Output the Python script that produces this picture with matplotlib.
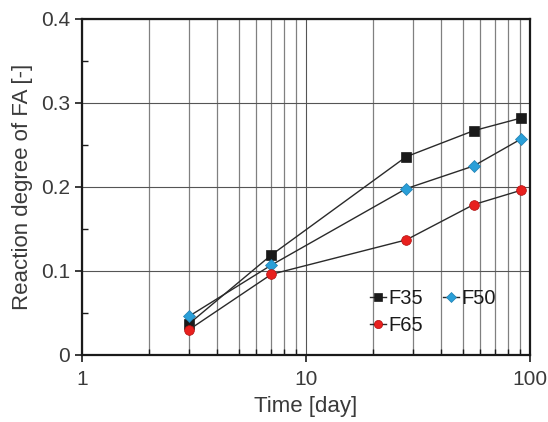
import matplotlib

matplotlib.use("Agg")
import matplotlib.pyplot as plt
from matplotlib.ticker import FixedLocator, NullFormatter

plt.rcParams["font.family"] = ["Liberation Sans", "DejaVu Sans"]

days = [3, 7, 28, 56, 91]
f35 = [0.037, 0.119, 0.236, 0.267, 0.282]
f50 = [0.046, 0.107, 0.198, 0.225, 0.257]
f65 = [0.030, 0.096, 0.137, 0.179, 0.196]
x_ticks = [1, 10, 100]
x_tick_labels = ["1", "10", "100"]
y_ticks = [0, 0.1, 0.2, 0.3, 0.4]
y_tick_labels = ["0", "0.1", "0.2", "0.3", "0.4"]

fig = plt.figure(figsize=(5.48, 4.22), dpi=100)
ax = fig.add_axes([0.1496, 0.1588, 0.8176, 0.7962])

line_kw = dict(color="#2a2a2a", linewidth=1.0, markeredgewidth=0.5, zorder=3)
h35, = ax.plot(days, f35, marker="s", markersize=7, markerfacecolor="#1a1a1a",
               markeredgecolor="#1a1a1a", label="F35", **line_kw)
h50, = ax.plot(days, f50, marker="D", markersize=6, markerfacecolor="#2a9fd8",
               markeredgecolor="#1f7fb0", label="F50", **line_kw)
h65, = ax.plot(days, f65, marker="o", markersize=7, markerfacecolor="#e8201e",
               markeredgecolor="#b01010", label="F65", **line_kw)

ax.set_xscale("log")
ax.set_xlim(1, 100)
ax.set_ylim(0, 0.4)
ax.set_xticks(x_ticks)
ax.set_xticklabels(x_tick_labels)
ax.xaxis.set_minor_formatter(NullFormatter())
ax.set_yticks(y_ticks)
ax.set_yticklabels(y_tick_labels)
ax.yaxis.set_minor_locator(FixedLocator([0.05, 0.15, 0.25, 0.35]))

ax.grid(True, which="major", axis="both", color="#555555", linewidth=0.8)
ax.grid(True, which="minor", axis="x", color="#808080", linewidth=0.9)

ax.tick_params(axis="both", which="major", direction="out", length=5,
               width=1.2, labelsize=15, colors="#1a1a1a", labelcolor="#3a3a3a")
ax.tick_params(axis="x", which="major", pad=6)
ax.tick_params(axis="both", which="minor", direction="in", length=4, width=1.0,
               colors="#1a1a1a")
for spine in ax.spines.values():
    spine.set_linewidth(1.6)
    spine.set_color("#1a1a1a")

ax.set_xlabel("Time [day]", fontsize=16, color="#3a3a3a", labelpad=5)
ax.set_ylabel("Reaction degree of FA [-]", fontsize=16, color="#3a3a3a", labelpad=6)

ax.legend(handles=[h35, h65, h50], loc="upper left", bbox_to_anchor=(0.625, 0.22),
          ncol=2, frameon=False, fontsize=14.5, handlelength=0.8, handletextpad=0.1,
          columnspacing=1.0, labelspacing=0.4, borderaxespad=0.0,
          markerscale=0.85, labelcolor="#1a1a1a")

fig.savefig("out.png", dpi=100)
plt.close(fig)
